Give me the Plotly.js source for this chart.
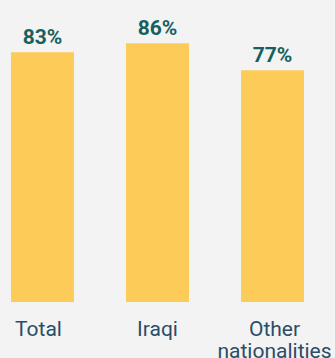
<!DOCTYPE html>
<html>
<head>
<meta charset="utf-8">
<script src="https://cdn.plot.ly/plotly-3.0.1.min.js"></script>
<style>html,body{margin:0;padding:0;background:#f3f3f3;}</style>
</head>
<body>
<div id="chart" style="width:335px;height:358px;"></div>
<script>
const categories = ["Total", "Iraqi", "Other<br>nationalities"];
const values = [83, 86, 77];

const trace = {
  type: "bar",
  x: categories,
  y: values,
  width: 0.548,
  marker: {color: "#fdcb57"},
  text: values.map(v => v + "%"),
  textposition: "outside",
  textfont: {family: "Roboto", size: 21, color: "#17605f", weight: 700},
  cliponaxis: false,
  hoverinfo: "none"
};

const layout = {
  width: 335,
  height: 358,
  margin: {l: 0, r: 0, t: 1, b: 56},
  paper_bgcolor: "#f3f3f3",
  plot_bgcolor: "#f3f3f3",
  showlegend: false,
  xaxis: {
    range: [-0.3696, 2.5435],
    showgrid: false, zeroline: false, showline: false,
    ticks: "",
    ticklabelstandoff: 12,
    tickfont: {family: "Roboto", size: 21, color: "#2b4d68"}
  },
  yaxis: {
    range: [0, 100],
    visible: false, showgrid: false, zeroline: false
  }
};

Plotly.newPlot("chart", [trace], layout, {displayModeBar: false, staticPlot: true}).then(function () {
  document.querySelectorAll(".xtick text tspan.line").forEach(function (t) {
    const dy = t.getAttribute("dy");
    if (dy && dy !== "0em" && dy !== "0") t.setAttribute("dy", "1.03em");
  });
  const shifts = [-4, 0, 2];
  document.querySelectorAll(".xtick").forEach(function (g, i) {
    if (shifts[i]) g.setAttribute("transform", "translate(" + shifts[i] + ",0)");
  });
});
</script>
</body>
</html>
